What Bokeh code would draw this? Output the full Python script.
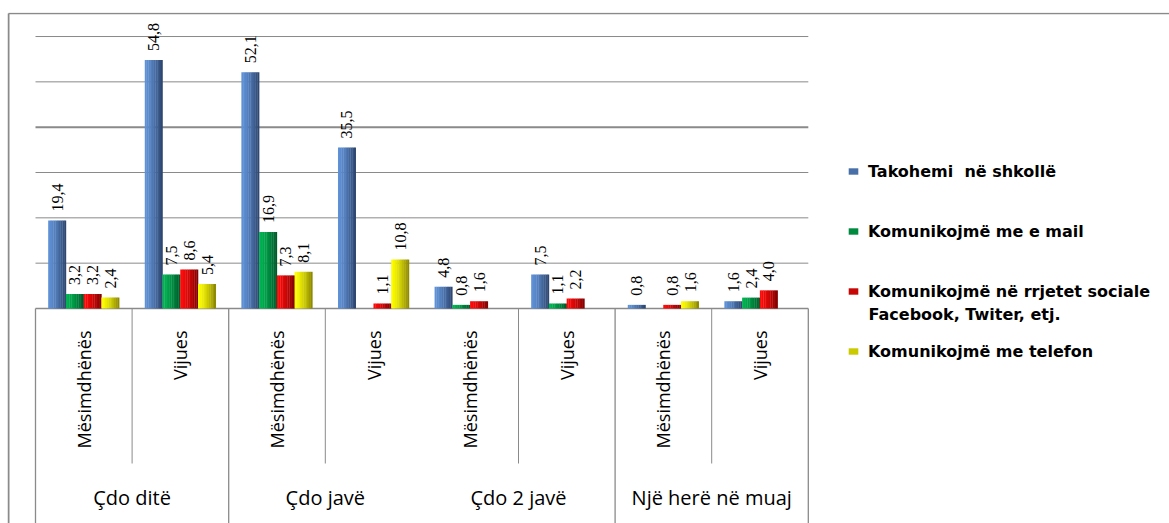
import numpy as np
from bokeh.plotting import figure
from bokeh.models import ColumnDataSource, Range1d, Legend, LegendItem, Label
from bokeh.core.properties import value
from bokeh.embed import file_html
from bokeh.resources import INLINE

# ---------------- data ----------------
groups = ["Çdo ditë", "Çdo javë", "Çdo 2 javë", "Një herë në muaj"]
subgroups = ["Mësimdhënës", "Vijues"]
series_names = [
    "Takohemi  në shkollë",
    "Komunikojmë me e mail",
    "Komunikojmë në rrjetet sociale",
    "Komunikojmë me telefon",
]
series_name_2nd_line = "Facebook, Twiter, etj."
takohemi = [19.4, 54.8, 52.1, 35.5, 4.8, 7.5, 0.8, 1.6]
email = [3.2, 7.5, 16.9, None, 0.8, 1.1, None, 2.4]
sociale = [3.2, 8.6, 7.3, 1.1, 1.6, 2.2, 0.8, 4.0]
telefon = [2.4, 5.4, 8.1, 10.8, None, None, 1.6, None]
grid_ticks = [10, 20, 30, 40, 50, 60]

series_values = [takohemi, email, sociale, telefon]
# gradient (left colour, right colour) per series
grad = [
    ((96, 146, 216), (42, 66, 106)),
    ((0, 180, 82), (0, 84, 40)),
    ((255, 10, 10), (125, 0, 0)),
    ((255, 255, 0), (135, 130, 0)),
]

# ---------------- layout (pixel geometry -> data units) ----------------
W, H = 1169, 523
FL, FT = 7, 12                  # frame left / top (px)
px_per_unit_y = 45.33 / 10.0
px_per_cat = 96.6
CAT0_PX, BASE_PX = 35, 308


def dx(px):
    return (px - CAT0_PX) / px_per_cat


def dy(py):
    return (BASE_PX - py) / px_per_unit_y


n_sub = len(groups) * len(subgroups)
sub_centers = [i + 0.5 for i in range(n_sub)]
bar_w = 0.1837
N_STRIP = 10

p = figure(width=W, height=H, output_backend="svg", toolbar_location=None,
           x_range=Range1d(dx(FL), dx(W)), y_range=Range1d(dy(H), dy(FT)),
           x_axis_type=None, y_axis_type=None,
           min_border_left=FL, min_border_right=0, min_border_top=FT, min_border_bottom=0)
p.grid.visible = False
p.outline_line_color = None
p.background_fill_color = "white"
p.border_fill_color = "white"

grid_col = "#8a8a8a"
# chart border (left and top)
p.segment(x0=[dx(8)], y0=[dy(H)], x1=[dx(8)], y1=[dy(13)], line_color=grid_col, line_width=2)
p.segment(x0=[dx(8)], y0=[dy(13)], x1=[dx(W)], y1=[dy(13)], line_color=grid_col, line_width=1.3)

# horizontal gridlines
grid_w = [2 if t == 40 else 1 for t in grid_ticks]
p.segment(x0=[0] * len(grid_ticks), y0=grid_ticks, x1=[n_sub] * len(grid_ticks), y1=grid_ticks,
          line_color=grid_col, line_width=grid_w)
# baseline / top of category box
p.segment(x0=[0], y0=[0], x1=[n_sub], y1=[0], line_color=grid_col, line_width=1.3)

# category separators
sub_sep_x = [2 * g + 1 for g in range(len(groups))]
p.segment(x0=sub_sep_x, y0=[0] * len(sub_sep_x), x1=sub_sep_x, y1=[dy(463)] * len(sub_sep_x),
          line_color=grid_col, line_width=1)
grp_sep_x = [0, 2, 6, 8]
p.segment(x0=grp_sep_x, y0=[0] * len(grp_sep_x), x1=grp_sep_x, y1=[dy(H)] * len(grp_sep_x),
          line_color=grid_col, line_width=1.3)

# ---------------- bars (gradient strips) ----------------
renderers = []
lab_x, lab_y, lab_t = [], [], []
for s, vals in enumerate(series_values):
    xs, tops, cols = [], [], []
    c0, c1 = grad[s]
    offset = (s - 1.5) * bar_w
    for i, v in enumerate(vals):
        if v is None:
            continue
        cx = sub_centers[i] + offset
        for k in range(N_STRIP):
            t = (k + 0.5) / N_STRIP
            tt = t ** 1.4
            col = tuple(int(round(a + (b - a) * tt)) for a, b in zip(c0, c1))
            xs.append(cx - bar_w / 2 + (k + 0.5) * bar_w / N_STRIP)
            tops.append(v)
            cols.append("#%02x%02x%02x" % col)
        lab_x.append(cx)
        lab_y.append(v)
        lab_t.append(f"{v:.1f}".replace(".", ","))
    src = ColumnDataSource(dict(x=xs, top=tops, color=cols))
    r = p.vbar(x="x", width=bar_w / N_STRIP * 1.15, top="top", bottom=0, source=src,
               fill_color="color", line_color=None)
    renderers.append(r)

# value labels
p.text(x=lab_x, y=lab_y, text=lab_t, angle=np.pi / 2, text_align="left", text_baseline="middle",
       y_offset=-9, text_font=value("Liberation Serif"), text_font_size="16px", text_color="black")

# sub category labels
sub_labels = [subgroups[i % 2] for i in range(n_sub)]
p.text(x=sub_centers, y=[dy(330)] * n_sub, text=sub_labels, angle=np.pi / 2,
       text_align="right", text_baseline="middle", text_font=value("Open Sans"),
       text_font_size="18px", text_color="black")

# group labels
p.text(x=[2 * g + 1 for g in range(len(groups))], y=[dy(497)] * len(groups), text=groups,
       text_align="center", text_baseline="middle", text_font=value("Open Sans"),
       text_font_size="20px", text_color="black")

# ---------------- legend ----------------
items = [LegendItem(label=series_names[s], renderers=[renderers[s]], index=N_STRIP // 2)
         for s in range(4)]
legend = Legend(items=items, location=(847 - FL, H - 361), orientation="vertical",
                glyph_width=12, glyph_height=8, label_height=20, spacing=40,
                label_standoff=9, padding=0, margin=0,
                border_line_alpha=0, background_fill_alpha=0,
                label_text_font="DejaVu Sans", label_text_font_size="16px",
                label_text_font_style="bold", label_text_color="black")
p.add_layout(legend)
p.add_layout(Label(x=dx(868), y=dy(314), text=series_name_2nd_line, text_align="left",
                   text_baseline="middle", text_font="DejaVu Sans", text_font_size="16px",
                   text_font_style="bold", text_color="black"))

open("out.html", "w").write(file_html(p, INLINE))
